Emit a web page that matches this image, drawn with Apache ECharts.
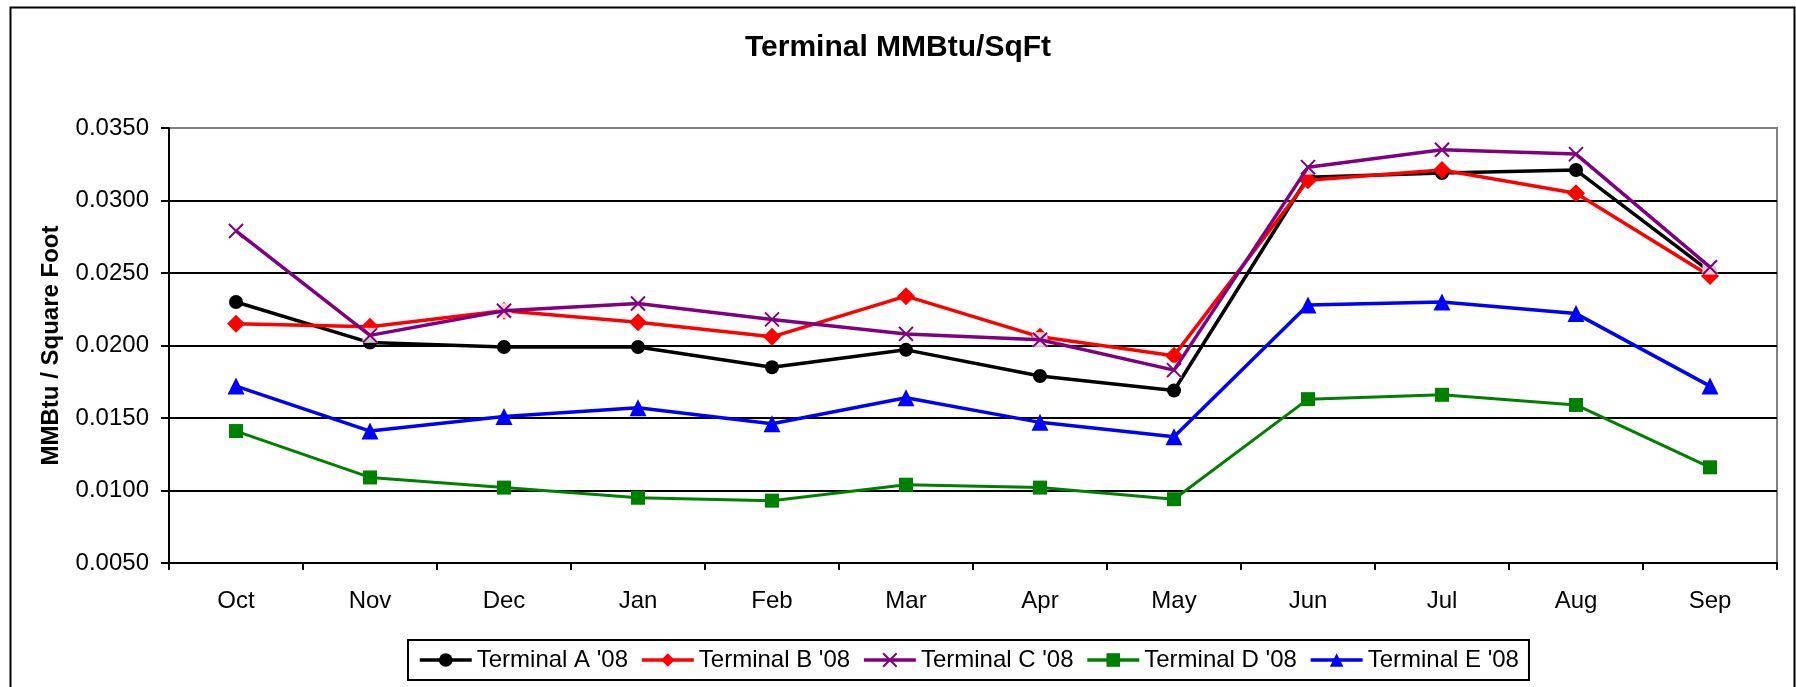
<!DOCTYPE html>
<html>
<head>
<meta charset="utf-8">
<script src="https://cdn.jsdelivr.net/npm/echarts@6/dist/echarts.min.js"></script>
<style>
html,body{margin:0;padding:0;background:#fff;}
#chart{width:1796px;height:687px;}
</style>
</head>
<body>
<div id="chart"></div>
<script>
const months = ['Oct','Nov','Dec','Jan','Feb','Mar','Apr','May','Jun','Jul','Aug','Sep'];
const terminalA = [0.0230, 0.0202, 0.0199, 0.0199, 0.0185, 0.0197, 0.0179, 0.0169, 0.0316, 0.0319, 0.0321, 0.0251];
const terminalB = [0.0215, 0.0213, 0.0224, 0.0216, 0.0206, 0.0234, 0.0206, 0.0193, 0.0314, 0.0321, 0.0305, 0.0248];
const terminalC = [0.0279, 0.0207, 0.0224, 0.0229, 0.0218, 0.0208, 0.0204, 0.0183, 0.0323, 0.0335, 0.0332, 0.0254];
const terminalD = [0.0141, 0.0109, 0.0102, 0.0095, 0.0093, 0.0104, 0.0102, 0.0094, 0.0163, 0.0166, 0.0159, 0.0116];
const terminalE = [0.0172, 0.0141, 0.0151, 0.0157, 0.0146, 0.0164, 0.0147, 0.0137, 0.0228, 0.0230, 0.0222, 0.0172];
const seriesNames = ["Terminal A '08", "Terminal B '08", "Terminal C '08", "Terminal D '08", "Terminal E '08"];
const titleText = 'Terminal MMBtu/SqFt';
const yAxisTitle = 'MMBtu / Square Foot';

const FONT = '"Liberation Sans", Arial, sans-serif';
const chart = echarts.init(document.getElementById('chart'), null, {renderer: 'canvas'});

function lineSeries(name, data, color, symbol, size, width, extra) {
  return Object.assign({
    name: name,
    type: 'line',
    data: data,
    symbol: symbol,
    symbolSize: size,
    showSymbol: true,
    animation: false,
    lineStyle: {color: color, width: width},
    itemStyle: {color: color},
    emphasis: {disabled: true}
  }, extra || {});
}

const xPath = 'path://M0,0L10,10M10,0L0,10';

const option = {
  animation: false,
  backgroundColor: '#ffffff',
  textStyle: {fontFamily: FONT},
  title: {
    text: titleText,
    left: 'center',
    top: 28,
    textStyle: {fontFamily: FONT, fontSize: 30, fontWeight: 'bold', color: '#000'}
  },
  grid: {
    left: 169, right: 19, top: 128, height: 435,
    show: true, borderColor: '#808080', borderWidth: 2, backgroundColor: 'transparent'
  },
  legend: {
    data: seriesNames,
    left: 408, top: 640,
    orient: 'horizontal',
    itemWidth: 52, itemHeight: 17, itemGap: 12,
    padding: [8, 10, 8, 10],
    borderColor: '#000', borderWidth: 2,
    lineStyle: {width: 3.5},
    textStyle: {fontFamily: FONT, fontSize: 24, color: '#000'}
  },
  xAxis: {
    type: 'category',
    data: months,
    boundaryGap: true,
    axisLine: {show: true, lineStyle: {color: '#000', width: 2}},
    axisTick: {show: true, length: 7, inside: false, lineStyle: {color: '#000', width: 2}},
    axisLabel: {fontFamily: FONT, fontSize: 24, color: '#000', margin: 26},
    splitLine: {show: false}
  },
  yAxis: {
    type: 'value',
    min: 0.005, max: 0.035, interval: 0.005,
    name: yAxisTitle,
    nameLocation: 'middle',
    nameGap: 106,
    nameRotate: 90,
    nameTextStyle: {fontFamily: FONT, fontSize: 24, fontWeight: 'bold', color: '#000'},
    axisLine: {show: true, lineStyle: {color: '#000', width: 2}},
    axisTick: {show: true, length: 8, inside: false, lineStyle: {color: '#000', width: 2}},
    axisLabel: {fontFamily: FONT, fontSize: 24, color: '#000', margin: 20,
      formatter: function (v) { return v.toFixed(4); }},
    splitLine: {show: true, lineStyle: {color: ['#000','#000','#000','#000','#000','#000','#808080'], width: 2}}
  },
  graphic: [{
    type: 'rect', left: 8, top: 5, silent: true, z: -1,
    shape: {width: 1784, height: 720},
    style: {fill: 'none', stroke: '#000', lineWidth: 2}
  }],
  series: [
    lineSeries(seriesNames[0], terminalA, '#000000', 'circle', 14, 3.5),
    lineSeries(seriesNames[1], terminalB, '#ff0000', 'diamond', 18, 3.5),
    lineSeries(seriesNames[3], terminalD, '#008000', 'rect', 14, 3),
    lineSeries(seriesNames[4], terminalE, '#0000ff', 'triangle', 17, 3.5),
    {
      type: 'scatter', name: 'C marker background', data: terminalC,
      symbol: 'rect', symbolSize: 15, z: 3, silent: true, animation: false,
      itemStyle: {color: '#ffffff'}, emphasis: {disabled: true}
    },
    lineSeries(seriesNames[2], terminalC, '#800080', xPath, 14, 3.5,
      {z: 4, itemStyle: {color: '#800080', borderColor: '#800080', borderWidth: 2}})
  ]
};
chart.setOption(option);
</script>
</body>
</html>
